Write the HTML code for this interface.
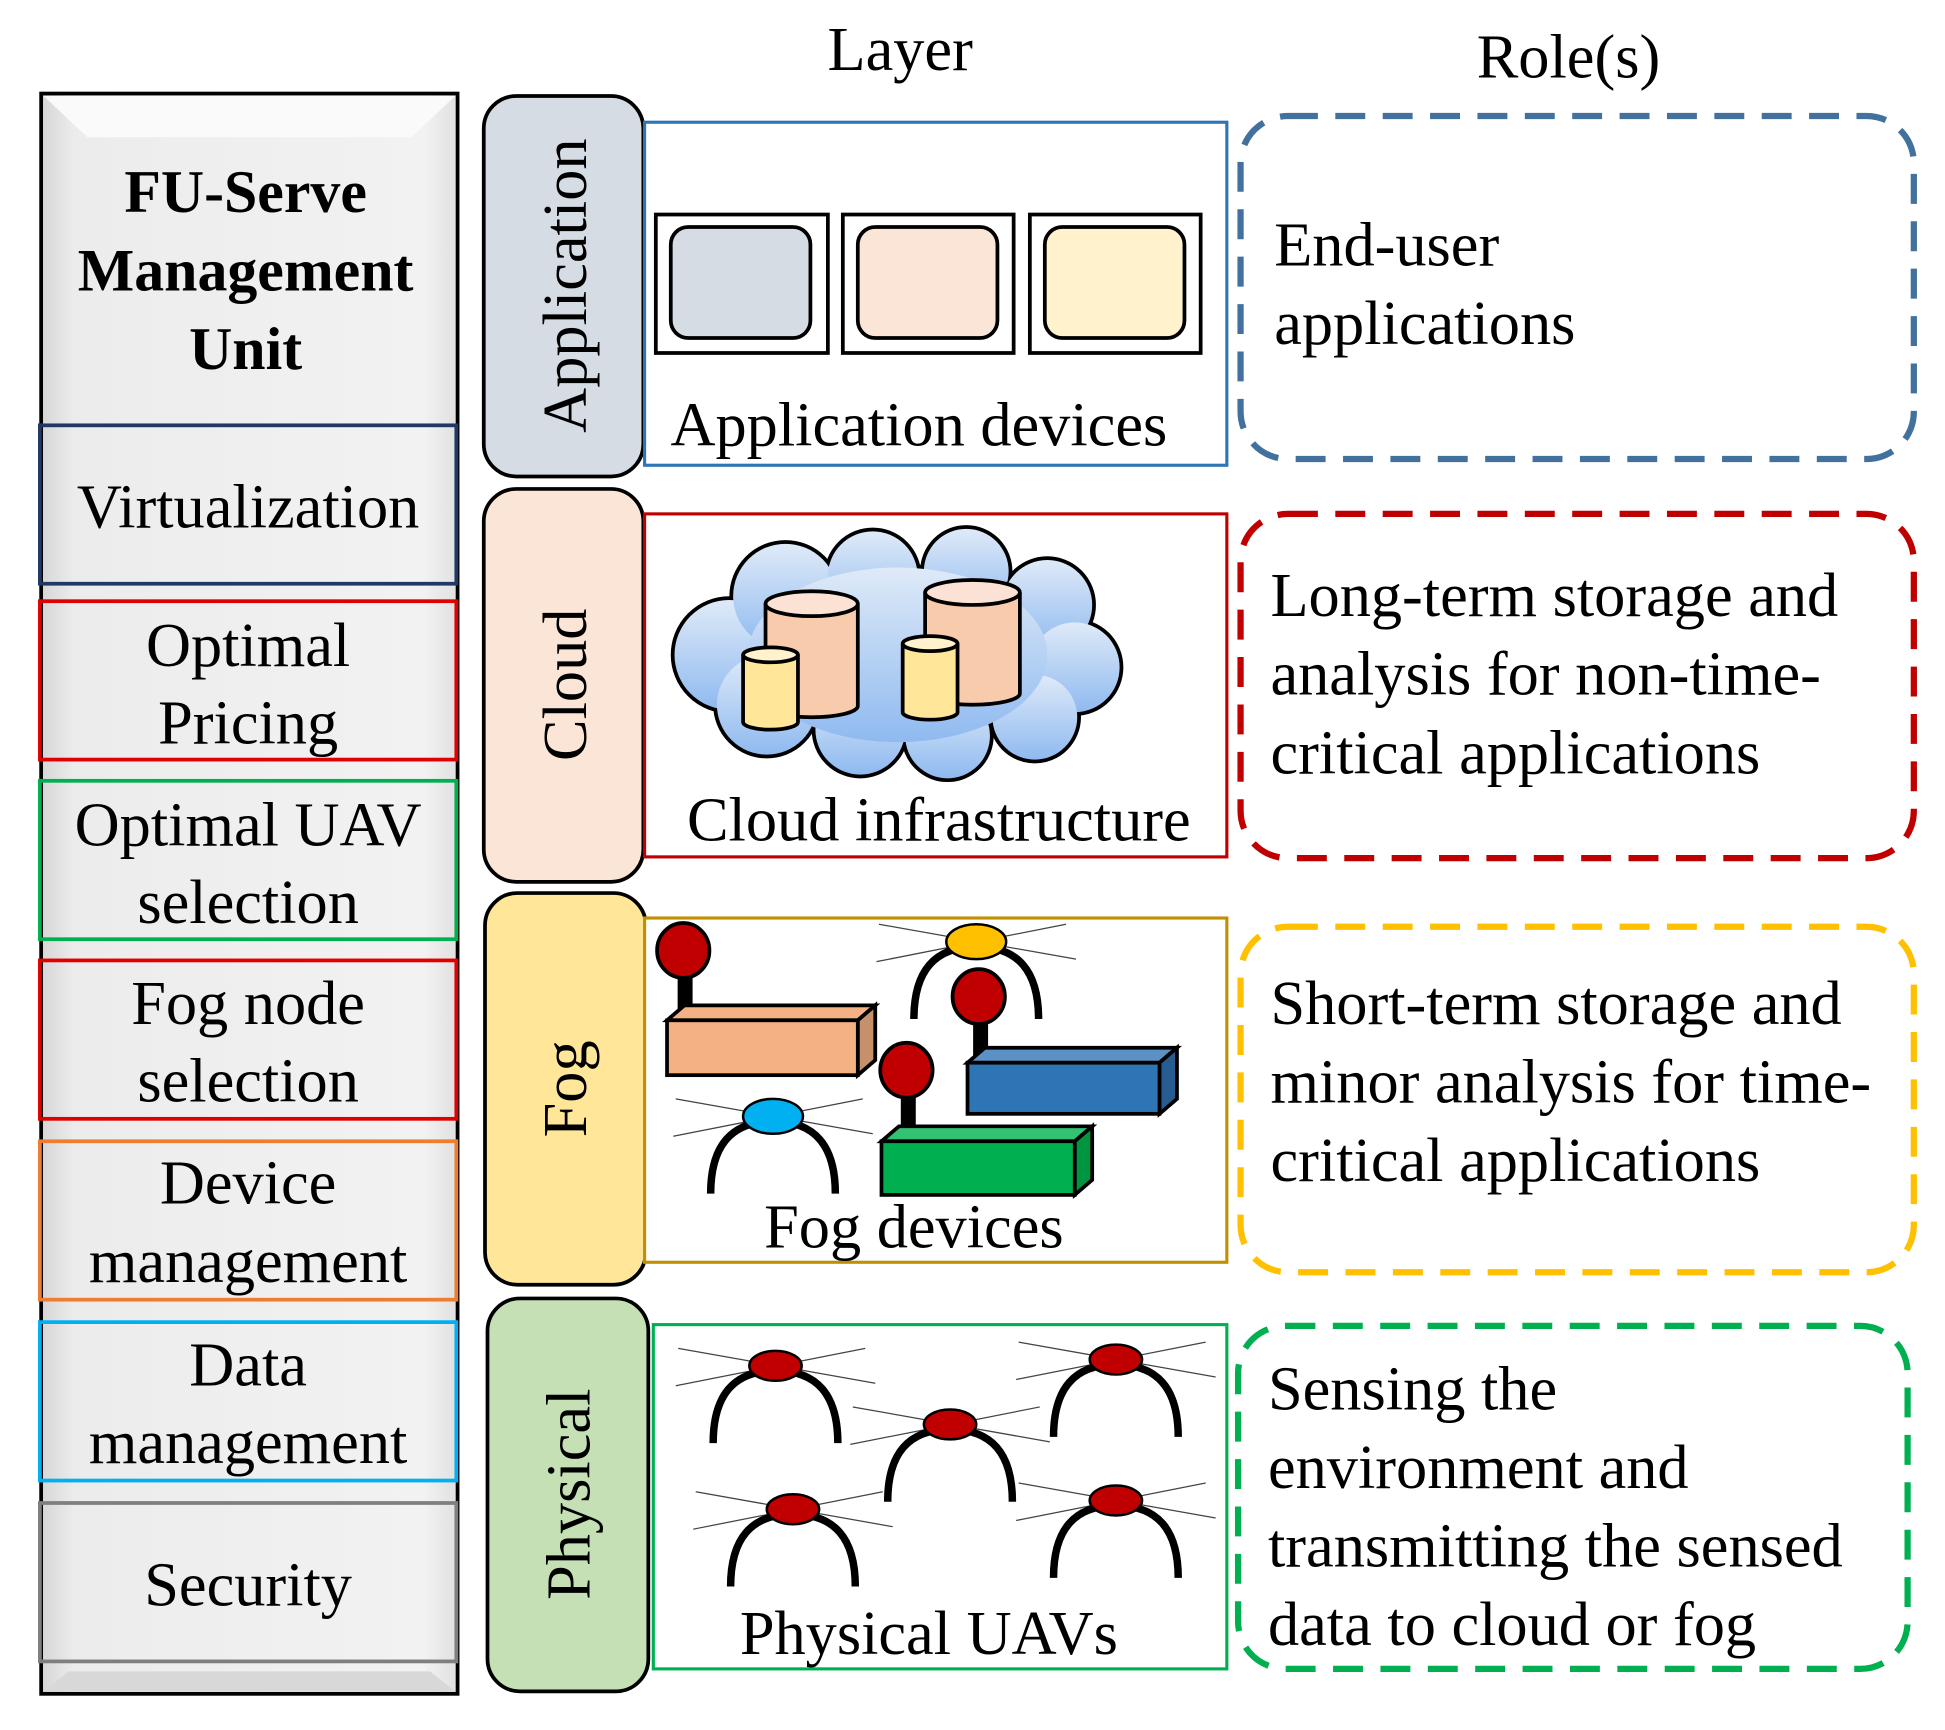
<!DOCTYPE html>
<html><head><meta charset="utf-8"><style>
html,body{margin:0;padding:0;background:#fff}
svg{display:block}
text{font-family:"Liberation Serif",serif;fill:#000}
</style></head><body>
<svg width="1945" height="1730" viewBox="0 0 1560 1387" preserveAspectRatio="none" xmlns="http://www.w3.org/2000/svg">
<defs>
<linearGradient id="cg" x1="0" y1="0" x2="0" y2="1"><stop offset="0" stop-color="#dfeaf8"/><stop offset="1" stop-color="#8fbaf0"/></linearGradient>
<linearGradient id="lg" x1="0" y1="0" x2="1" y2="0"><stop offset="0" stop-color="#d6d6d6"/><stop offset="0.08" stop-color="#ececec"/><stop offset="0.92" stop-color="#f2f2f2"/><stop offset="1" stop-color="#e0e0e0"/></linearGradient>
<g id="uav">
<line x1="-78" y1="-14" x2="80" y2="14" stroke="#444" stroke-width="1"/>
<line x1="-80" y1="16" x2="72" y2="-14" stroke="#444" stroke-width="1"/>
<path d="M-50,62 Q-50,4 0,4 Q50,4 50,62" fill="none" stroke="#000" stroke-width="6"/>
<ellipse cx="0" cy="0" rx="21" ry="12" fill="#c00000" stroke="#000" stroke-width="2"/>
</g>
</defs>

<rect x="33" y="75" width="334" height="1283" fill="url(#lg)" stroke="#000" stroke-width="3"/>
<polygon points="35,77 365,77 330,110 70,110" fill="#fafafa"/>
<polygon points="35,1356 365,1356 345,1340 55,1340" fill="#d8d8d8"/>
<text x="197" y="170" font-size="48" font-weight="bold" text-anchor="middle">FU-Serve</text>
<text x="197" y="233" font-size="48" font-weight="bold" text-anchor="middle">Management</text>
<text x="197" y="296" font-size="48" font-weight="bold" text-anchor="middle">Unit</text>

<rect x="32" y="341" width="334" height="127" fill="none" stroke="#1f3864" stroke-width="3"/>
<text x="199" y="423" font-size="50" text-anchor="middle">Virtualization</text>
<rect x="32" y="482" width="334" height="127" fill="none" stroke="#e00000" stroke-width="3"/>
<text x="199" y="534" font-size="50" text-anchor="middle">Optimal</text>
<text x="199" y="596" font-size="50" text-anchor="middle">Pricing</text>
<rect x="32" y="626" width="334" height="127" fill="none" stroke="#00b050" stroke-width="3"/>
<text x="199" y="678" font-size="50" text-anchor="middle">Optimal UAV</text>
<text x="199" y="740" font-size="50" text-anchor="middle">selection</text>
<rect x="32" y="770" width="334" height="127" fill="none" stroke="#e00000" stroke-width="3"/>
<text x="199" y="821" font-size="50" text-anchor="middle">Fog node</text>
<text x="199" y="883" font-size="50" text-anchor="middle">selection</text>
<rect x="32" y="915" width="334" height="127" fill="none" stroke="#ed7d31" stroke-width="3"/>
<text x="199" y="965" font-size="50" text-anchor="middle">Device</text>
<text x="199" y="1028" font-size="50" text-anchor="middle">management</text>
<rect x="32" y="1060" width="334" height="127" fill="none" stroke="#00b0f0" stroke-width="3"/>
<text x="199" y="1111" font-size="50" text-anchor="middle">Data</text>
<text x="199" y="1173" font-size="50" text-anchor="middle">management</text>
<rect x="32" y="1205" width="334" height="127" fill="none" stroke="#7f7f7f" stroke-width="3"/>
<text x="199" y="1287" font-size="50" text-anchor="middle">Security</text>

<text x="722" y="56" font-size="50" text-anchor="middle">Layer</text>
<text x="1258" y="62" font-size="50" text-anchor="middle">Role(s)</text>

<rect x="388" y="77" width="128" height="305" rx="26" fill="#d6dce4" stroke="#000" stroke-width="3"/>
<text transform="translate(470,229) rotate(-90)" font-size="50" text-anchor="middle">Application</text>
<rect x="388" y="392" width="128" height="315" rx="26" fill="#fbe5d6" stroke="#000" stroke-width="3"/>
<text transform="translate(470,549) rotate(-90)" font-size="50" text-anchor="middle">Cloud</text>
<rect x="389" y="716" width="129" height="314" rx="26" fill="#ffe699" stroke="#000" stroke-width="3"/>
<text transform="translate(470,873) rotate(-90)" font-size="50" text-anchor="middle">Fog</text>
<rect x="391" y="1041" width="129" height="315" rx="26" fill="#c5e0b4" stroke="#000" stroke-width="3"/>
<text transform="translate(473,1198) rotate(-90)" font-size="50" text-anchor="middle">Physical</text>

<rect x="517" y="98" width="467" height="275" fill="#fff" stroke="#2e75b6" stroke-width="2.5"/>
<rect x="526" y="172" width="138" height="111" fill="#fff" stroke="#000" stroke-width="3"/>
<rect x="538" y="182" width="112" height="89" rx="14" fill="#d6dce4" stroke="#000" stroke-width="3"/>
<rect x="676" y="172" width="137" height="111" fill="#fff" stroke="#000" stroke-width="3"/>
<rect x="688" y="182" width="112" height="89" rx="14" fill="#fbe5d6" stroke="#000" stroke-width="3"/>
<rect x="826" y="172" width="137" height="111" fill="#fff" stroke="#000" stroke-width="3"/>
<rect x="838" y="182" width="112" height="89" rx="14" fill="#fff2cc" stroke="#000" stroke-width="3"/>
<text x="737" y="357" font-size="50" text-anchor="middle">Application devices</text>

<rect x="517" y="412" width="467" height="275" fill="#fff" stroke="#c00000" stroke-width="2.5"/>
<g stroke="#000" stroke-width="6" fill="#000">
<circle cx="585" cy="525" r="44"/><circle cx="630" cy="478" r="42"/><circle cx="700" cy="462" r="36"/><circle cx="775" cy="458" r="34"/><circle cx="840" cy="485" r="36"/><circle cx="862" cy="535" r="36"/><circle cx="830" cy="575" r="34"/><circle cx="760" cy="590" r="34"/><circle cx="690" cy="585" r="36"/><circle cx="615" cy="565" r="40"/><ellipse cx="720" cy="525" rx="120" ry="70"/>
</g>
<g fill="url(#cg)">
<circle cx="585" cy="525" r="44"/><circle cx="630" cy="478" r="42"/><circle cx="700" cy="462" r="36"/><circle cx="775" cy="458" r="34"/><circle cx="840" cy="485" r="36"/><circle cx="862" cy="535" r="36"/><circle cx="830" cy="575" r="34"/><circle cx="760" cy="590" r="34"/><circle cx="690" cy="585" r="36"/><circle cx="615" cy="565" r="40"/><ellipse cx="720" cy="525" rx="120" ry="70"/>
</g>
<g stroke="#000" stroke-width="3">
<path d="M614,484 V566 A37,9 0 0 0 688,566 V484" fill="#f8cbad"/><ellipse cx="651" cy="484" rx="37" ry="10" fill="#fbe2d5"/>
<path d="M742,475 V556 A38,9 0 0 0 818,556 V475" fill="#f8cbad"/><ellipse cx="780" cy="475" rx="38" ry="10" fill="#fbe2d5"/>
<path d="M596,525 V579 A22,6 0 0 0 640,579 V525" fill="#ffe699"/><ellipse cx="618" cy="525" rx="22" ry="6" fill="#fff2cc"/>
<path d="M724,516 V571 A22,6 0 0 0 768,571 V516" fill="#ffe699"/><ellipse cx="746" cy="516" rx="22" ry="6" fill="#fff2cc"/>
</g>
<text x="753" y="674" font-size="50" text-anchor="middle">Cloud infrastructure</text>

<rect x="517" y="736" width="467" height="276" fill="#fff" stroke="#bf9000" stroke-width="2.5"/>
<use href="#uav" x="783" y="755"/>
<ellipse cx="783" cy="755" rx="24" ry="14" fill="#ffc000" stroke="#000" stroke-width="2"/>
<use href="#uav" x="620" y="895"/>
<ellipse cx="620" cy="895" rx="24" ry="14" fill="#00b0f0" stroke="#000" stroke-width="2"/>
<g stroke="#000" stroke-width="3">
<rect x="545" y="784" width="9" height="28" fill="#000"/>
<ellipse cx="548" cy="762" rx="21" ry="22" fill="#c00000"/>
<polygon points="535,818 549,806 702,806 688,818" fill="#f4b183"/>
<polygon points="688,818 702,806 702,850 688,862" fill="#c5906a"/>
<rect x="535" y="818" width="153" height="44" fill="#f4b183"/>
<rect x="782" y="818" width="9" height="30" fill="#000"/>
<ellipse cx="785" cy="799" rx="21" ry="22" fill="#c00000"/>
<polygon points="776,852 790,840 944,840 930,852" fill="#5b91c5"/>
<polygon points="930,852 944,840 944,881 930,893" fill="#275c90"/>
<rect x="776" y="852" width="154" height="41" fill="#2e75b6"/>
<rect x="724" y="876" width="9" height="32" fill="#000"/>
<ellipse cx="727" cy="858" rx="21" ry="22" fill="#c00000"/>
<polygon points="707,915 721,903 876,903 862,915" fill="#33c172"/>
<polygon points="862,915 876,903 876,946 862,958" fill="#00963f"/>
<rect x="707" y="915" width="155" height="43" fill="#00b050"/>
</g>
<text x="733" y="1000" font-size="50" text-anchor="middle">Fog devices</text>

<rect x="524" y="1062" width="460" height="276" fill="#fff" stroke="#00b050" stroke-width="2.5"/>
<use href="#uav" x="622" y="1095"/>
<use href="#uav" x="762" y="1142"/>
<use href="#uav" x="895" y="1090"/>
<use href="#uav" x="636" y="1210"/>
<use href="#uav" x="895" y="1203"/>
<text x="745" y="1326" font-size="50" text-anchor="middle">Physical UAVs</text>

<g fill="none" stroke-width="5" stroke-dasharray="24,14">
<rect x="995" y="93" width="540" height="275" rx="38" stroke="#41719c"/>
<rect x="995" y="412" width="540" height="276" rx="38" stroke="#c00000"/>
<rect x="995" y="743" width="540" height="277" rx="38" stroke="#ffc000"/>
<rect x="993" y="1063" width="537" height="275" rx="38" stroke="#00b050"/>
</g>
<g font-size="50">
<text x="1022" y="213">End-user</text>
<text x="1022" y="276">applications</text>
<text x="1019" y="494">Long-term storage and</text>
<text x="1019" y="557">analysis for non-time-</text>
<text x="1019" y="620">critical applications</text>
<text x="1019" y="821">Short-term storage and</text>
<text x="1019" y="884">minor analysis for time-</text>
<text x="1019" y="947">critical applications</text>
<text x="1017" y="1130">Sensing the</text>
<text x="1017" y="1193">environment and</text>
<text x="1017" y="1256">transmitting the sensed</text>
<text x="1017" y="1319">data to cloud or fog</text>
</g>
</svg>
</body></html>
